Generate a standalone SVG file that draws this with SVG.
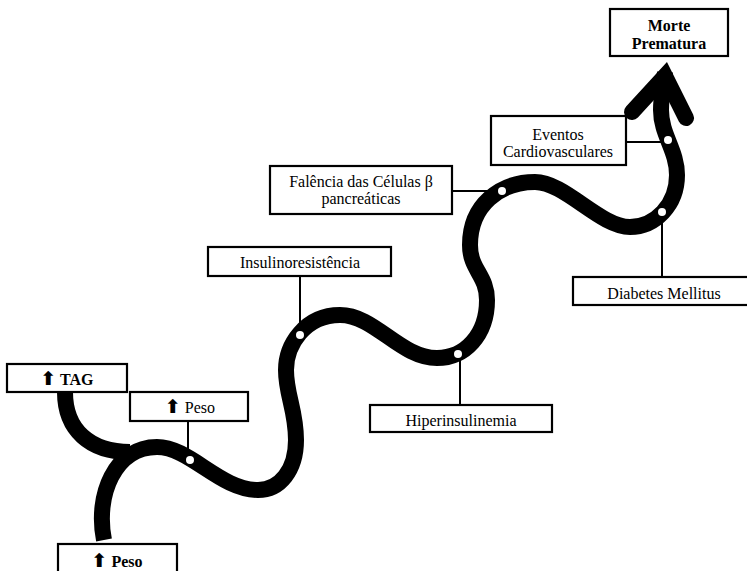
<svg xmlns="http://www.w3.org/2000/svg" width="747" height="571" viewBox="0 0 747 571">
<style>
.box{fill:#fff;stroke:#000;stroke-width:2.2}
.t{font-family:"Liberation Serif","Times New Roman",serif;font-size:16px;text-anchor:middle;fill:#000}
.b{font-weight:bold}
.ar{font-family:"DejaVu Sans",sans-serif;font-weight:bold;font-size:19px}
.thin{fill:none;stroke:#000;stroke-width:2}
.road{fill:none;stroke:#000;stroke-width:16}
.dot{fill:#fff;stroke:none}
</style>
<rect width="747" height="571" fill="#fff"/>
<g id="connectors">
  <path class="thin" d="M188,421V461"/>
  <path class="thin" d="M300,276V337"/>
  <path class="thin" d="M452,191H502"/>
  <path class="thin" d="M460,354V405"/>
  <path class="thin" d="M626,142H668"/>
  <path class="thin" d="M662,213V277"/>
  <path class="road" d="M65,392 C65,430 90,452 130,452"/>
  <path class="road" d="M104,540 C95,495 115,447 157,447 C190,447 220,490 258,490 C280,490 296,470 296,440 C296,410 286,395 286,370 C286,345 305,315 340,315 C375,315 400,358 437,358 C465,358 487,335 487,300 C487,275 470,270 470,245 C470,205 500,182 535,182 C565,182 600,227 630,227 C655,227 677,205 677,175 C677,150 661,135 661,110 C661,95 664,85 665,72"/>
  <path class="road" d="M632,112 L665,76 L686,118" stroke-linejoin="miter" stroke-linecap="round" stroke-miterlimit="10"/>
  <circle class="dot" cx="190" cy="460" r="4"/>
  <circle class="dot" cx="300" cy="335" r="4"/>
  <circle class="dot" cx="458" cy="354" r="4"/>
  <circle class="dot" cx="502" cy="191" r="4"/>
  <circle class="dot" cx="662" cy="212" r="4"/>
  <circle class="dot" cx="668" cy="140" r="4"/>
</g>
<g id="tag">
  <rect class="box" x="7" y="364" width="120" height="28"/>
  <text class="t b" x="67" y="385"><tspan class="ar">⬆</tspan> TAG</text>
</g>
<g id="peso-mid">
  <rect class="box" x="130" y="392" width="118" height="29"/>
  <text class="t" x="190" y="413"><tspan class="ar">⬆</tspan> Peso</text>
</g>
<g id="peso-bottom">
  <rect class="box" x="58" y="544" width="119" height="34"/>
  <text class="t b" x="117" y="567"><tspan class="ar">⬆</tspan> Peso</text>
</g>
<g id="insulinoresistencia">
  <rect class="box" x="208" y="247" width="183" height="29"/>
  <text class="t" x="300" y="268">Insulinoresistência</text>
</g>
<g id="falencia">
  <rect class="box" x="270" y="166" width="182" height="48"/>
  <text class="t" x="361" y="187">Falência das Células β</text>
  <text class="t" x="361" y="204">pancreáticas</text>
</g>
<g id="hiperinsulinemia">
  <rect class="box" x="370" y="405" width="182" height="27"/>
  <text class="t" x="461" y="426">Hiperinsulinemia</text>
</g>
<g id="eventos">
  <rect class="box" x="491" y="116" width="135" height="49"/>
  <text class="t" x="558" y="140">Eventos</text>
  <text class="t" x="558" y="157">Cardiovasculares</text>
</g>
<g id="diabetes">
  <rect class="box" x="573" y="277" width="190" height="28"/>
  <text class="t" x="664" y="299">Diabetes Mellitus</text>
</g>
<g id="morte">
  <rect class="box" x="610" y="9" width="118" height="47"/>
  <text class="t b" x="669" y="31">Morte</text>
  <text class="t b" x="669" y="49">Prematura</text>
</g>
</svg>
